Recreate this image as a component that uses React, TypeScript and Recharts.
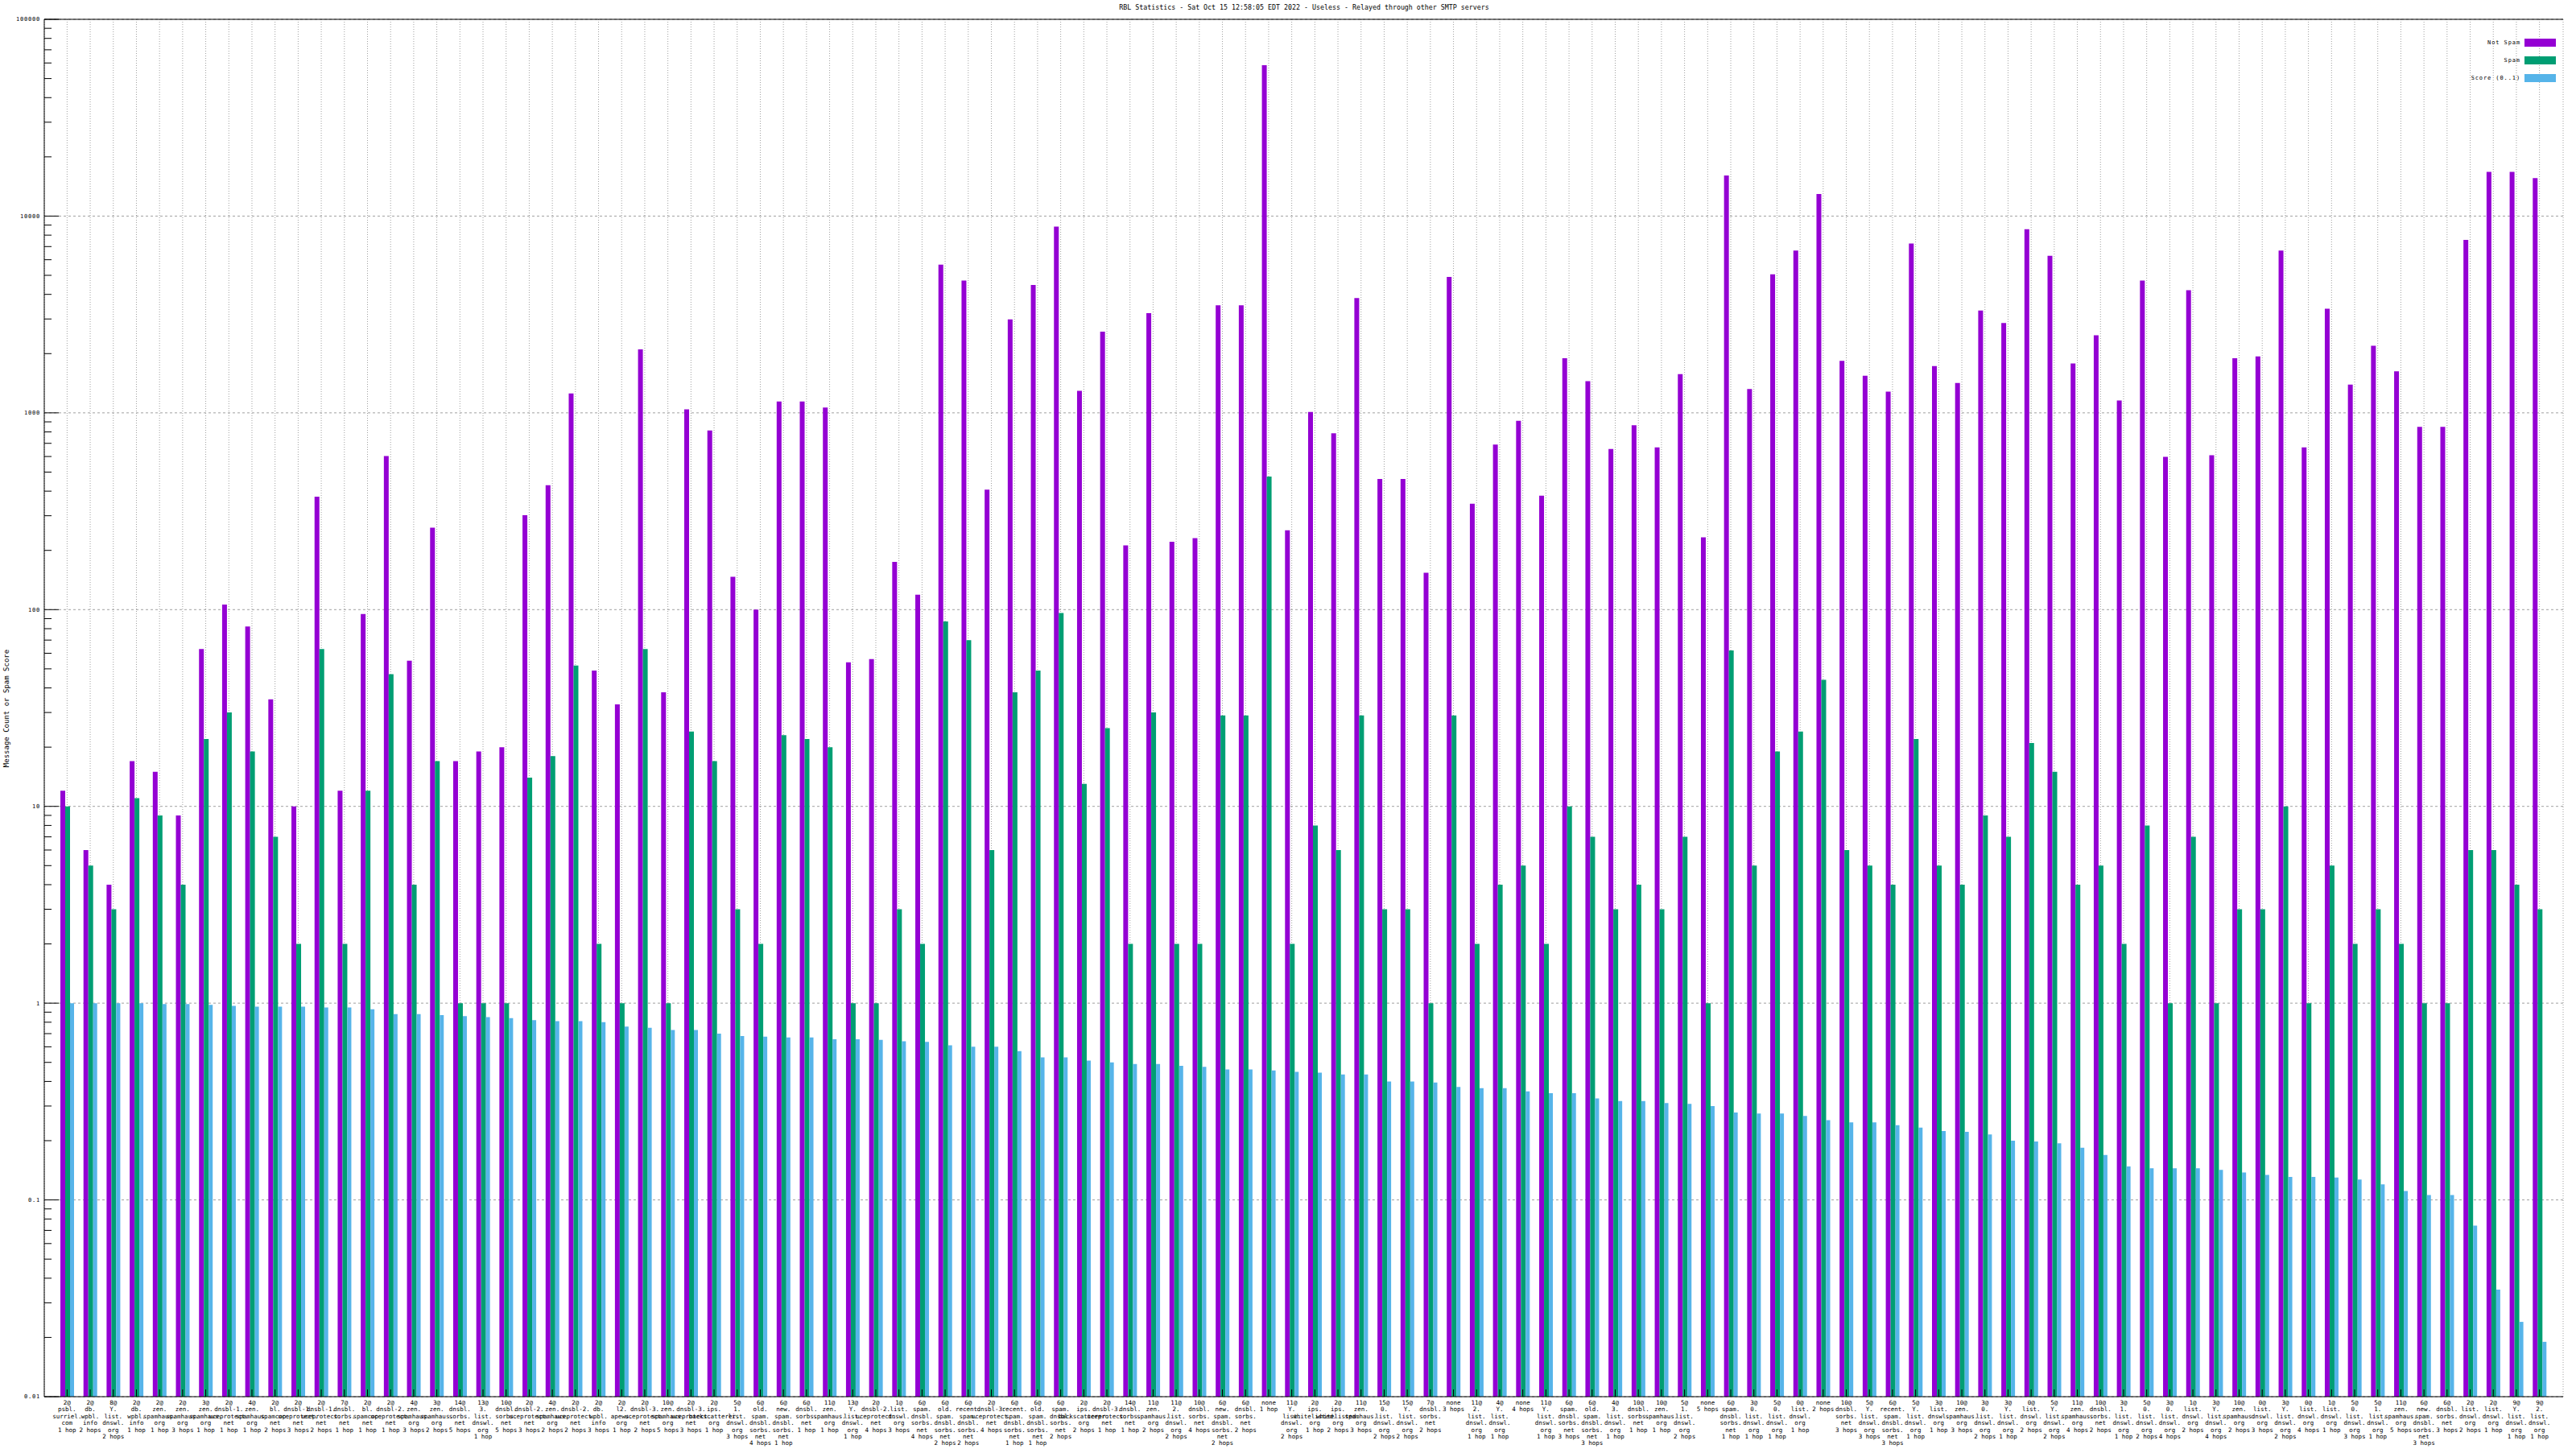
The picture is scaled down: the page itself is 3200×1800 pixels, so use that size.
import React from 'react';
import { BarChart, Bar, XAxis, YAxis, CartesianGrid, ReferenceLine } from 'recharts';

// one label per sender / list / hop count, lines as gnuplot broke them
const categories = [
  '2@\npsbl.\nsurriel.\ncom\n1 hop', '2@\ndb.\nwpbl.\ninfo\n2 hops', '8@\nY.\nlist.\ndnswl.\norg\n2 hops',
  '2@\ndb.\nwpbl.\ninfo\n1 hop', '2@\nzen.\nspamhaus.\norg\n1 hop', '2@\nzen.\nspamhaus.\norg\n3 hops',
  '3@\nzen.\nspamhaus.\norg\n1 hop', '2@\ndnsbl-1.\nuceprotect.\nnet\n1 hop', '4@\nzen.\nspamhaus.\norg\n1 hop',
  '2@\nbl.\nspamcop.\nnet\n2 hops', '2@\ndnsbl-1.\nuceprotect.\nnet\n3 hops', '2@\ndnsbl-1.\nuceprotect.\nnet\n2 hops',
  '7@\ndnsbl.\nsorbs.\nnet\n1 hop', '2@\nbl.\nspamcop.\nnet\n1 hop', '2@\ndnsbl-2.\nuceprotect.\nnet\n1 hop',
  '4@\nzen.\nspamhaus.\norg\n3 hops', '3@\nzen.\nspamhaus.\norg\n2 hops', '14@\ndnsbl.\nsorbs.\nnet\n5 hops',
  '13@\n3.\nlist.\ndnswl.\norg\n1 hop', '10@\ndnsbl.\nsorbs.\nnet\n5 hops', '2@\ndnsbl-2.\nuceprotect.\nnet\n3 hops',
  '4@\nzen.\nspamhaus.\norg\n2 hops', '2@\ndnsbl-2.\nuceprotect.\nnet\n2 hops', '2@\ndb.\nwpbl.\ninfo\n3 hops',
  '2@\nl2.\napews.\norg\n1 hop', '2@\ndnsbl-3.\nuceprotect.\nnet\n2 hops', '10@\nzen.\nspamhaus.\norg\n5 hops',
  '2@\ndnsbl-3.\nuceprotect.\nnet\n3 hops', '2@\nips.\nbackscatterer.\norg\n1 hop', '5@\n1.\nlist.\ndnswl.\norg\n3 hops',
  '6@\nold.\nspam.\ndnsbl.\nsorbs.\nnet\n4 hops', '6@\nnew.\nspam.\ndnsbl.\nsorbs.\nnet\n1 hop', '6@\ndnsbl.\nsorbs.\nnet\n1 hop',
  '11@\nzen.\nspamhaus.\norg\n1 hop', '13@\nY.\nlist.\ndnswl.\norg\n1 hop', '2@\ndnsbl-2.\nuceprotect.\nnet\n4 hops',
  '1@\nlist.\ndnswl.\norg\n3 hops', '6@\nspam.\ndnsbl.\nsorbs.\nnet\n4 hops', '6@\nold.\nspam.\ndnsbl.\nsorbs.\nnet\n2 hops',
  '6@\nrecent.\nspam.\ndnsbl.\nsorbs.\nnet\n2 hops', '2@\ndnsbl-3.\nuceprotect.\nnet\n4 hops', '6@\nrecent.\nspam.\ndnsbl.\nsorbs.\nnet\n1 hop',
  '6@\nold.\nspam.\ndnsbl.\nsorbs.\nnet\n1 hop', '6@\nspam.\ndnsbl.\nsorbs.\nnet\n2 hops', '2@\nips.\nbackscatterer.\norg\n2 hops',
  '2@\ndnsbl-3.\nuceprotect.\nnet\n1 hop', '14@\ndnsbl.\nsorbs.\nnet\n1 hop', '11@\nzen.\nspamhaus.\norg\n2 hops',
  '11@\n2.\nlist.\ndnswl.\norg\n2 hops', '10@\ndnsbl.\nsorbs.\nnet\n4 hops', '6@\nnew.\nspam.\ndnsbl.\nsorbs.\nnet\n2 hops',
  '6@\ndnsbl.\nsorbs.\nnet\n2 hops', 'none\n1 hop', '11@\nY.\nlist.\ndnswl.\norg\n2 hops',
  '2@\nips.\nwhitelisted.\norg\n1 hop', '2@\nips.\nwhitelisted.\norg\n2 hops', '11@\nzen.\nspamhaus.\norg\n3 hops',
  '15@\n0.\nlist.\ndnswl.\norg\n2 hops', '15@\nY.\nlist.\ndnswl.\norg\n2 hops', '7@\ndnsbl.\nsorbs.\nnet\n2 hops',
  'none\n3 hops', '11@\n2.\nlist.\ndnswl.\norg\n1 hop', '4@\nY.\nlist.\ndnswl.\norg\n1 hop',
  'none\n4 hops', '11@\nY.\nlist.\ndnswl.\norg\n1 hop', '6@\nspam.\ndnsbl.\nsorbs.\nnet\n3 hops',
  '6@\nold.\nspam.\ndnsbl.\nsorbs.\nnet\n3 hops', '4@\n3.\nlist.\ndnswl.\norg\n1 hop', '10@\ndnsbl.\nsorbs.\nnet\n1 hop',
  '10@\nzen.\nspamhaus.\norg\n1 hop', '5@\n1.\nlist.\ndnswl.\norg\n2 hops', 'none\n5 hops',
  '6@\nspam.\ndnsbl.\nsorbs.\nnet\n1 hop', '3@\n0.\nlist.\ndnswl.\norg\n1 hop', '5@\n0.\nlist.\ndnswl.\norg\n1 hop',
  '0@\nlist.\ndnswl.\norg\n1 hop', 'none\n2 hops', '10@\ndnsbl.\nsorbs.\nnet\n3 hops',
  '5@\nY.\nlist.\ndnswl.\norg\n3 hops', '6@\nrecent.\nspam.\ndnsbl.\nsorbs.\nnet\n3 hops', '5@\nY.\nlist.\ndnswl.\norg\n1 hop',
  '3@\nlist.\ndnswl.\norg\n1 hop', '10@\nzen.\nspamhaus.\norg\n3 hops', '3@\n0.\nlist.\ndnswl.\norg\n2 hops',
  '3@\nY.\nlist.\ndnswl.\norg\n1 hop', '0@\nlist.\ndnswl.\norg\n2 hops', '5@\nY.\nlist.\ndnswl.\norg\n2 hops',
  '11@\nzen.\nspamhaus.\norg\n4 hops', '10@\ndnsbl.\nsorbs.\nnet\n2 hops', '3@\n1.\nlist.\ndnswl.\norg\n1 hop',
  '5@\n0.\nlist.\ndnswl.\norg\n2 hops', '3@\n0.\nlist.\ndnswl.\norg\n4 hops', '1@\nlist.\ndnswl.\norg\n2 hops',
  '3@\nY.\nlist.\ndnswl.\norg\n4 hops', '10@\nzen.\nspamhaus.\norg\n2 hops', '0@\nlist.\ndnswl.\norg\n3 hops',
  '3@\nY.\nlist.\ndnswl.\norg\n2 hops', '0@\nlist.\ndnswl.\norg\n4 hops', '1@\nlist.\ndnswl.\norg\n1 hop',
  '5@\n0.\nlist.\ndnswl.\norg\n3 hops', '5@\n1.\nlist.\ndnswl.\norg\n1 hop', '11@\nzen.\nspamhaus.\norg\n5 hops',
  '6@\nnew.\nspam.\ndnsbl.\nsorbs.\nnet\n3 hops', '6@\ndnsbl.\nsorbs.\nnet\n3 hops', '2@\nlist.\ndnswl.\norg\n2 hops',
  '2@\nlist.\ndnswl.\norg\n1 hop', '9@\nY.\nlist.\ndnswl.\norg\n1 hop', '9@\n2.\nlist.\ndnswl.\norg\n1 hop',
];

const notSpam = [
  12, 6, 4, 17, 15, 9, 63, 106, 82, 35,
  10, 375, 12, 95, 603, 55, 261, 17, 19, 20,
  302, 429, 1256, 49, 33, 2104, 38, 1042, 813, 147,
  100, 1143, 1143, 1064, 54, 56, 175, 119, 5667, 4707,
  407, 2986, 4470, 8832, 1294, 2586, 212, 3211, 221, 231,
  3524, 3524, 58400, 253, 1010, 788, 3830, 461, 461, 154,
  4906, 345, 690, 912, 379, 1897, 1450, 655, 865, 668,
  1574, 233, 16070, 1321, 5058, 6680, 12950, 1840, 1543, 1282,
  7262, 1729, 1420, 3311, 2864, 8570, 6280, 1783, 2481, 1156,
  4707, 597, 4198, 609, 1897, 1937, 6680, 668, 3383, 1392,
  2192, 1625, 848, 848, 7568, 16760, 16760, 15600,
];

const spam = [
  10, 5, 3, 11, 9, 4, 22, 30, 19, 7,
  2, 63, 2, 12, 47, 4, 17, 1, 1, 1,
  14, 18, 52, 2, 1, 63, 1, 24, 17, 3,
  2, 23, 22, 20, 1, 1, 3, 2, 87, 70,
  6, 38, 49, 96, 13, 25, 2, 30, 2, 2,
  29, 29, 475, 2, 8, 6, 29, 3, 3, 1,
  29, 2, 4, 5, 2, 10, 7, 3, 4, 3,
  7, 1, 62, 5, 19, 24, 44, 6, 5, 4,
  22, 5, 4, 9, 7, 21, 15, 4, 5, 2,
  8, 1, 7, 1, 3, 3, 10, 1, 5, 2,
  3, 2, 1, 1, 6, 6, 4, 3,
];

const score = [
  1.0, 1.0, 1.0, 1.0, 0.99, 0.99, 0.98, 0.97, 0.96, 0.96,
  0.96, 0.95, 0.95, 0.93, 0.88, 0.88, 0.87, 0.86, 0.85, 0.84,
  0.82, 0.81, 0.81, 0.8, 0.76, 0.75, 0.73, 0.73, 0.7, 0.68,
  0.675, 0.67, 0.67, 0.655, 0.655, 0.65, 0.64, 0.635, 0.61, 0.6,
  0.6, 0.57, 0.53, 0.53, 0.51, 0.5, 0.49, 0.49, 0.48, 0.475,
  0.46, 0.46, 0.455, 0.447, 0.443, 0.434, 0.434, 0.4, 0.4, 0.395,
  0.375, 0.37, 0.37, 0.356, 0.349, 0.349, 0.328, 0.318, 0.318, 0.311,
  0.308, 0.3, 0.278, 0.275, 0.275, 0.267, 0.254, 0.248, 0.248, 0.24,
  0.233, 0.224, 0.222, 0.215, 0.2, 0.198, 0.194, 0.184, 0.169, 0.148,
  0.145, 0.145, 0.145, 0.142, 0.138, 0.134, 0.131, 0.131, 0.13, 0.127,
  0.12, 0.111, 0.106, 0.106, 0.074, 0.035, 0.024, 0.019,
];

const majorTicks = [0.01, 0.1, 1, 10, 100, 1000, 10000, 100000];
const majorLabels = ['0.01', '0.1', '1', '10', '100', '1000', '10000', '100000'];
const minorTicks = majorTicks.slice(0, -1).flatMap((d) => [2, 3, 4, 5, 6, 7, 8, 9].map((k) => d * k));
const yTicks = [...majorTicks, ...minorTicks].sort((a, b) => a - b);

const chartData = categories.map((name, i) => ({
  name,
  notSpam: notSpam[i],
  spam: spam[i],
  score: score[i],
}));

const MONO = '"DejaVu Sans Mono", monospace';
const majorIndex = (v: number) => majorTicks.findIndex((m) => Math.abs(m - v) < m * 1e-6);

const LeftTick = ({ x, y, payload }: any) => {
  const idx = majorIndex(payload.value);
  return (
    <g>
      <line x1={x} y1={y} x2={x + (idx >= 0 ? 18 : 9)} y2={y} stroke="#000" />
      {idx >= 0 && (
        <text x={x - 5} y={y} dy="0.35em" textAnchor="end" fontSize={7} letterSpacing={0.8} fontFamily={MONO} fill="#000">
          {majorLabels[idx]}
        </text>
      )}
    </g>
  );
};

const RightTick = ({ x, y, payload }: any) => {
  const idx = majorIndex(payload.value);
  return <line x1={x} y1={y} x2={x - (idx >= 0 ? 18 : 9)} y2={y} stroke="#000" />;
};

const BottomTick = ({ x, y, payload }: any) => {
  const lines = String(payload.value).split('\n');
  return (
    <g>
      <line x1={x} y1={y} x2={x} y2={y - 9} stroke="#000" />
      <text x={x} y={y + 10} textAnchor="middle" fontSize={7.5} fontFamily={MONO} fill="#000">
        {lines.map((l, k) => (
          <tspan key={k} x={x} dy={k === 0 ? 0 : 8.4}>
            {l}
          </tspan>
        ))}
      </text>
    </g>
  );
};

const legendItems = [
  { label: 'Not Spam', color: '#9400d3' },
  { label: 'Spam', color: '#009e73' },
  { label: 'Score (0..1)', color: '#56b4e9' },
];

export default function App() {
  return (
    <div style={{ position: 'absolute', left: 0, top: 0, width: 3200, height: 1800, background: '#fff' }}>
      <BarChart
        width={3200}
        height={1800}
        data={chartData}
        margin={{ top: 24, right: 16, bottom: 0, left: 0 }}
        barGap={0}
      >
        <CartesianGrid yAxisId="left" vertical={false} horizontalValues={majorTicks} stroke="#a0a0a0" strokeDasharray="3 3" />
        <CartesianGrid yAxisId="left" horizontal={false} stroke="#a0a0a0" strokeDasharray="1 2" />
        <Bar yAxisId="left" dataKey="notSpam" fill="#9400d3" barSize={6} isAnimationActive={false} />
        <Bar yAxisId="left" dataKey="spam" fill="#009e73" barSize={6} isAnimationActive={false} />
        <Bar yAxisId="left" dataKey="score" fill="#56b4e9" barSize={5} isAnimationActive={false} />
        <ReferenceLine yAxisId="left" y={100000} stroke="#000" strokeWidth={1} ifOverflow="extendDomain" />
        <XAxis
          dataKey="name"
          interval={0}
          padding={{ left: 14, right: 15 }}
          height={65}
          tickSize={0}
          tickMargin={0}
          tickLine={false}
          axisLine={{ stroke: '#000' }}
          tick={<BottomTick />}
        />
        <XAxis
          xAxisId="top"
          orientation="top"
          dataKey="name"
          interval={0}
          padding={{ left: 14, right: 15 }}
          height={0}
          mirror
          tickSize={17}
          tick={false}
          tickLine={{ stroke: '#000' }}
          axisLine={{ stroke: '#000' }}
        />
        <YAxis
          yAxisId="left"
          type="number"
          scale="log"
          domain={[0.01, 100000]}
          allowDataOverflow
          ticks={yTicks}
          interval={0}
          width={55}
          tickSize={0}
          tickMargin={0}
          tickLine={false}
          axisLine={{ stroke: '#000' }}
          tick={<LeftTick />}
        />
        <YAxis
          yAxisId="right"
          orientation="right"
          type="number"
          scale="log"
          domain={[0.01, 100000]}
          allowDataOverflow
          ticks={yTicks}
          interval={0}
          width={0}
          tickSize={0}
          tickMargin={0}
          tickLine={false}
          axisLine={{ stroke: '#000' }}
          tick={<RightTick />}
        />
      </BarChart>

      <div
        style={{
          position: 'absolute',
          left: 0,
          width: 3240,
          top: 4,
          textAlign: 'center',
          fontFamily: MONO,
          fontSize: 8.3,
          color: '#000',
          whiteSpace: 'pre',
        }}
      >
        RBL Statistics - Sat Oct 15 12:58:05 EDT 2022 - Useless - Relayed through other SMTP servers
      </div>

      <div
        style={{
          position: 'absolute',
          left: 8,
          top: 880,
          transform: 'translate(-50%, -50%) rotate(-90deg)',
          fontFamily: MONO,
          fontSize: 9,
          color: '#000',
          whiteSpace: 'pre',
        }}
      >
        Message Count or Spam Score
      </div>

      <div style={{ position: 'absolute', right: 25, top: 42 }}>
        {legendItems.map((it) => (
          <div key={it.label} style={{ display: 'flex', alignItems: 'center', justifyContent: 'flex-end', height: 22 }}>
            <span style={{ fontFamily: MONO, fontSize: 7, letterSpacing: 0.9, color: '#000', whiteSpace: 'pre' }}>
              {it.label}
            </span>
            <span style={{ display: 'inline-block', width: 39, height: 10, marginLeft: 5, background: it.color }} />
          </div>
        ))}
      </div>
    </div>
  );
}
